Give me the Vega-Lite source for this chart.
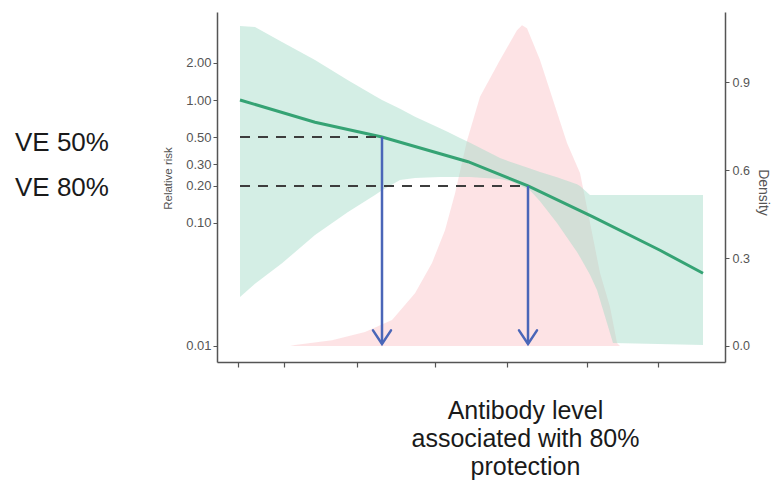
{
  "$schema": "https://vega.github.io/schema/vega-lite/v6.json",
  "width": 508,
  "height": 350,
  "autosize": {"type": "none"},
  "padding": {"left": 217, "top": 12, "right": 50, "bottom": 131},
  "background": "white",
  "config": {"view": {"stroke": null}, "font": "Liberation Sans"},
  "datasets": {
    "density": [
      {"level": 73, "density": 0},
      {"level": 78, "density": 0.003},
      {"level": 115, "density": 0.02},
      {"level": 148, "density": 0.048},
      {"level": 175, "density": 0.089},
      {"level": 198, "density": 0.18},
      {"level": 215, "density": 0.283},
      {"level": 228, "density": 0.395},
      {"level": 238, "density": 0.52},
      {"level": 250, "density": 0.70},
      {"level": 263, "density": 0.85},
      {"level": 283, "density": 0.975},
      {"level": 300, "density": 1.077},
      {"level": 305, "density": 1.094},
      {"level": 310, "density": 1.084},
      {"level": 323, "density": 0.975},
      {"level": 336, "density": 0.839},
      {"level": 350, "density": 0.692},
      {"level": 363, "density": 0.59},
      {"level": 373, "density": 0.42},
      {"level": 383, "density": 0.249},
      {"level": 393, "density": 0.133},
      {"level": 400, "density": 0.01},
      {"level": 403, "density": 0}
    ],
    "band": [
      {"level": 23, "lower": 0.025, "upper": 4.0},
      {"level": 38, "lower": 0.032, "upper": 3.92},
      {"level": 65, "lower": 0.047, "upper": 2.96},
      {"level": 98, "lower": 0.080, "upper": 2.11},
      {"level": 131, "lower": 0.123, "upper": 1.45},
      {"level": 158, "lower": 0.169, "upper": 1.08},
      {"level": 165, "lower": 0.185, "upper": 1.0},
      {"level": 183, "lower": 0.224, "upper": 0.85},
      {"level": 198, "lower": 0.232, "upper": 0.73},
      {"level": 223, "lower": 0.237, "upper": 0.59},
      {"level": 231, "lower": 0.237, "upper": 0.55},
      {"level": 243, "lower": 0.237, "upper": 0.49},
      {"level": 253, "lower": 0.237, "upper": 0.45},
      {"level": 283, "lower": 0.228, "upper": 0.338},
      {"level": 293, "lower": 0.22, "upper": 0.315},
      {"level": 313, "lower": 0.185, "upper": 0.278},
      {"level": 323, "lower": 0.15, "upper": 0.26},
      {"level": 340, "lower": 0.10, "upper": 0.235},
      {"level": 360, "lower": 0.058, "upper": 0.207},
      {"level": 363, "lower": 0.053, "upper": 0.2},
      {"level": 373, "lower": 0.038, "upper": 0.169},
      {"level": 380, "lower": 0.0285, "upper": 0.169},
      {"level": 390, "lower": 0.0154, "upper": 0.169},
      {"level": 396, "lower": 0.0106, "upper": 0.169},
      {"level": 486, "lower": 0.0102, "upper": 0.169}
    ],
    "curve": [
      {"level": 23, "rr": 1.0},
      {"level": 98, "rr": 0.66},
      {"level": 165, "rr": 0.5},
      {"level": 251, "rr": 0.315},
      {"level": 311, "rr": 0.2},
      {"level": 376, "rr": 0.112},
      {"level": 443, "rr": 0.06},
      {"level": 486, "rr": 0.039}
    ],
    "guides": [
      {"start": 23, "level": 165, "rr": 0.5, "tip": 0.0104, "ve": "VE 50%"},
      {"start": 23, "level": 311, "rr": 0.2, "tip": 0.0104, "ve": "VE 80%"}
    ],
    "labels": [
      {"level": -202, "rr": 0.447, "text": "VE 50%"},
      {"level": -202, "rr": 0.1926, "text": "VE 80%"}
    ]
  },
  "layer": [
    {
      "data": {"name": "density"},
      "mark": {"type": "area", "color": "#f9b8bf", "opacity": 0.4},
      "encoding": {
        "x": {
          "field": "level", "type": "quantitative",
          "scale": {"domain": [0, 508], "nice": false, "zero": false},
          "axis": {
            "orient": "bottom",
            "values": [21, 67, 140, 218, 290, 370, 441],
            "labels": false,
            "ticks": true,
            "tickSize": 5,
            "tickColor": "#555555",
            "tickWidth": 1.2,
            "domainColor": "#555555",
            "domainWidth": 1.5,
            "grid": false,
            "title": ["Antibody level", "associated with 80%", "protection"],
            "titleFont": "Liberation Sans",
            "titleFontSize": 25,
            "titleFontWeight": "normal",
            "titleColor": "#1a1a1a",
            "titleLineHeight": 28,
            "titleX": 308,
            "titleY": 36,
            "titleAlign": "center",
            "titleBaseline": "top"
          }
        },
        "y": {
          "field": "density", "type": "quantitative",
          "scale": {"domain": [-0.0546, 1.139], "nice": false, "zero": false},
          "axis": {
            "orient": "right",
            "values": [0, 0.3, 0.6, 0.9],
            "format": ".1f",
            "grid": false,
            "labelFontSize": 12.5,
            "labelColor": "#555555",
            "labelPadding": 3,
            "tickSize": 4,
            "tickColor": "#555555",
            "domainColor": "#555555",
            "domainWidth": 1.5,
            "title": "Density",
            "titleFontSize": 14,
            "titleFontWeight": "normal",
            "titleColor": "#555555",
            "titleAngle": 90,
            "titleX": 37,
            "titleY": 180,
            "titleAlign": "center",
            "titleBaseline": "middle"
          }
        }
      }
    },
    {
      "layer": [
        {
          "data": {"name": "band"},
          "mark": {"type": "area", "color": "#9fd9c6", "opacity": 0.45},
          "encoding": {
            "x": {"field": "level", "type": "quantitative", "scale": {"domain": [0, 508], "nice": false, "zero": false}},
            "y": {
              "field": "upper", "type": "quantitative",
              "scale": {"type": "log", "domain": [0.00741, 5.194], "nice": false},
              "axis": {
                "orient": "left",
                "values": [0.01, 0.1, 0.2, 0.3, 0.5, 1, 2],
                "format": ".2f",
                "grid": false,
                "labelFontSize": 13,
                "labelColor": "#555555",
                "labelPadding": 2,
                "tickSize": 4,
                "tickColor": "#555555",
                "domainColor": "#555555",
                "domainWidth": 1.5,
                "title": "Relative risk",
                "titleFontSize": 11.5,
                "titleFontWeight": "normal",
                "titleColor": "#555555",
                "titleAngle": -90,
                "titleX": -49,
                "titleY": 166,
                "titleAlign": "center",
                "titleBaseline": "middle"
              }
            },
            "y2": {"field": "lower"}
          }
        },
        {
          "data": {"name": "curve"},
          "mark": {"type": "line", "color": "#35a374", "strokeWidth": 3},
          "encoding": {
            "x": {"field": "level", "type": "quantitative", "scale": {"domain": [0, 508], "nice": false, "zero": false}},
            "y": {"field": "rr", "type": "quantitative", "scale": {"type": "log", "domain": [0.00741, 5.194], "nice": false}}
          }
        },
        {
          "data": {"name": "guides"},
          "mark": {"type": "rule", "color": "#3d3d3d", "strokeWidth": 2, "strokeDash": [10, 8]},
          "encoding": {
            "x": {"field": "start", "type": "quantitative", "scale": {"domain": [0, 508], "nice": false, "zero": false}},
            "x2": {"field": "level"},
            "y": {"field": "rr", "type": "quantitative", "scale": {"type": "log", "domain": [0.00741, 5.194], "nice": false}}
          }
        },
        {
          "data": {"name": "guides"},
          "mark": {"type": "rule", "color": "#4a66b8", "strokeWidth": 2.5},
          "encoding": {
            "x": {"field": "level", "type": "quantitative", "scale": {"domain": [0, 508], "nice": false, "zero": false}},
            "y": {"field": "rr", "type": "quantitative", "scale": {"type": "log", "domain": [0.00741, 5.194], "nice": false}},
            "y2": {"field": "tip"}
          }
        },
        {
          "data": {"name": "guides"},
          "mark": {"type": "point", "shape": "M -1 -1.5 L 0 0 L 1 -1.5", "filled": false, "stroke": "#4a66b8", "strokeWidth": 2.5, "size": 324, "opacity": 1, "strokeCap": "round"},
          "encoding": {
            "x": {"field": "level", "type": "quantitative", "scale": {"domain": [0, 508], "nice": false, "zero": false}},
            "y": {"field": "tip", "type": "quantitative", "scale": {"type": "log", "domain": [0.00741, 5.194], "nice": false}}
          }
        },
        {
          "data": {"name": "labels"},
          "mark": {"type": "text", "align": "left", "baseline": "middle", "fontSize": 26, "color": "#1a1a1a", "font": "Liberation Sans"},
          "encoding": {
            "x": {"field": "level", "type": "quantitative", "scale": {"domain": [0, 508], "nice": false, "zero": false}},
            "y": {"field": "rr", "type": "quantitative", "scale": {"type": "log", "domain": [0.00741, 5.194], "nice": false}},
            "text": {"field": "text"}
          }
        }
      ]
    }
  ],
  "resolve": {"scale": {"y": "independent"}}
}
